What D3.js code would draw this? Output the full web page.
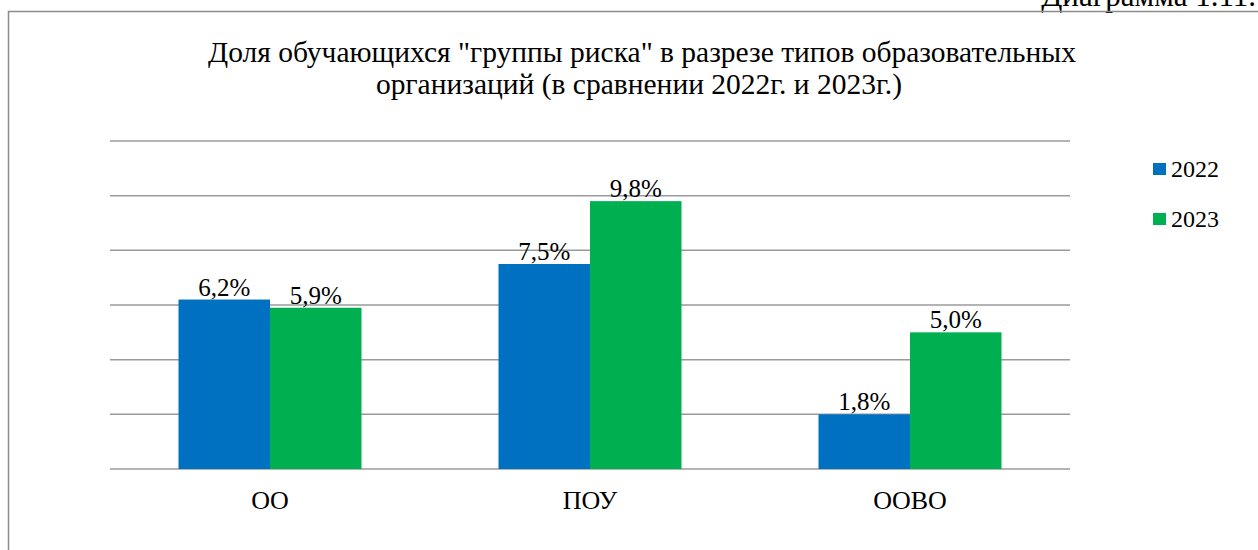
<!DOCTYPE html>
<html>
<head>
<meta charset="utf-8">
<script src="https://cdn.jsdelivr.net/npm/d3@7"></script>
</head>
<body style="margin:0;background:#fff">
<script>
// data
var categories = ["ОО", "ПОУ", "ООВО"];
var years = ["2022", "2023"];
var values2022 = [6.2, 7.5, 2.0];   // bar heights as drawn
var values2023 = [5.9, 9.8, 5.0];
var labels2022 = ["6,2%", "7,5%", "1,8%"];
var labels2023 = ["5,9%", "9,8%", "5,0%"];
var yTicks = [0, 2, 4, 6, 8, 10, 12];
var colors = ["#0070C0", "#00B050"];

var width = 1258, height = 550;
var plotLeft = 110, plotRight = 1070, plotTop = 141, plotBottom = 469;
var FONT = "Liberation Serif";

var svg = d3.select("body")
    .append("svg")
    .attr("width", width)
    .attr("height", height)
    .style("display", "block");

// caption above the frame (cut off in the source too)
svg.append("text")
    .attr("x", 1256)
    .attr("y", 6)
    .attr("text-anchor", "end")
    .style("font-family", FONT)
    .style("font-size", "31px")
    .text("Диаграмма 1.11.");

// chart frame
svg.append("path")
    .attr("d", "M8.5," + (height + 5) + "V11.5H" + (width + 5))
    .attr("fill", "none")
    .attr("stroke", "#8c8c8c")
    .attr("stroke-width", 1.5);

var xScale = d3.scaleBand().domain(categories).range([plotLeft, plotRight]);
var xInner = d3.scaleBand().domain(years).range([0, 183]);
var yScale = d3.scaleLinear().domain([0, 12]).range([plotBottom, plotTop]);

// gridlines
svg.append("g")
    .selectAll("line")
    .data(yTicks)
    .enter()
    .append("line")
    .attr("x1", plotLeft)
    .attr("x2", plotRight)
    .attr("y1", function(d) { return yScale(d); })
    .attr("y2", function(d) { return yScale(d); })
    .attr("stroke", "#9a9a9a")
    .attr("stroke-width", 1.5);

var rows = categories.map(function(c, i) {
    return [
        { cat: c, year: years[0], v: values2022[i], label: labels2022[i] },
        { cat: c, year: years[1], v: values2023[i], label: labels2023[i] }
    ];
});
var flat = d3.merge(rows);
var groupOffset = (xScale.bandwidth() - 183) / 2;

function barX(d) { return xScale(d.cat) + groupOffset + xInner(d.year); }

svg.append("g")
    .selectAll("rect")
    .data(flat)
    .enter()
    .append("rect")
    .attr("x", barX)
    .attr("y", function(d) { return yScale(d.v); })
    .attr("width", xInner.bandwidth())
    .attr("height", function(d) { return plotBottom - yScale(d.v); })
    .attr("fill", function(d) { return colors[years.indexOf(d.year)]; });

// data labels
svg.append("g")
    .selectAll("text")
    .data(flat)
    .enter()
    .append("text")
    .attr("x", function(d) { return barX(d) + xInner.bandwidth() / 2; })
    .attr("y", function(d) { return yScale(d.v) - 4; })
    .attr("text-anchor", "middle")
    .style("font-family", FONT)
    .style("font-size", "25px")
    .text(function(d) { return d.label; });

// category axis labels
svg.append("g")
    .selectAll("text")
    .data(categories)
    .enter()
    .append("text")
    .attr("x", function(d) { return xScale(d) + xScale.bandwidth() / 2; })
    .attr("y", 509)
    .attr("text-anchor", "middle")
    .style("font-family", FONT)
    .style("font-size", "26px")
    .text(function(d) { return d; });

// title
var title = svg.append("text")
    .attr("text-anchor", "middle")
    .style("font-family", FONT)
    .style("font-size", "29.5px");
title.append("tspan").attr("x", 642).attr("y", 62)
    .text("Доля обучающихся \"группы риска\" в разрезе типов образовательных");
title.append("tspan").attr("x", 639).attr("y", 94)
    .text("организаций (в сравнении 2022г. и 2023г.)");

// legend
var legend = svg.append("g")
    .selectAll("g")
    .data(years)
    .enter()
    .append("g")
    .attr("transform", function(d, i) { return "translate(1153," + (163 + i * 50) + ")"; });

legend.append("rect")
    .attr("width", 13)
    .attr("height", 12)
    .attr("fill", function(d, i) { return colors[i]; });

legend.append("text")
    .attr("x", 18)
    .attr("y", 14)
    .style("font-family", FONT)
    .style("font-size", "24px")
    .text(function(d) { return d; });
</script>
</body>
</html>
